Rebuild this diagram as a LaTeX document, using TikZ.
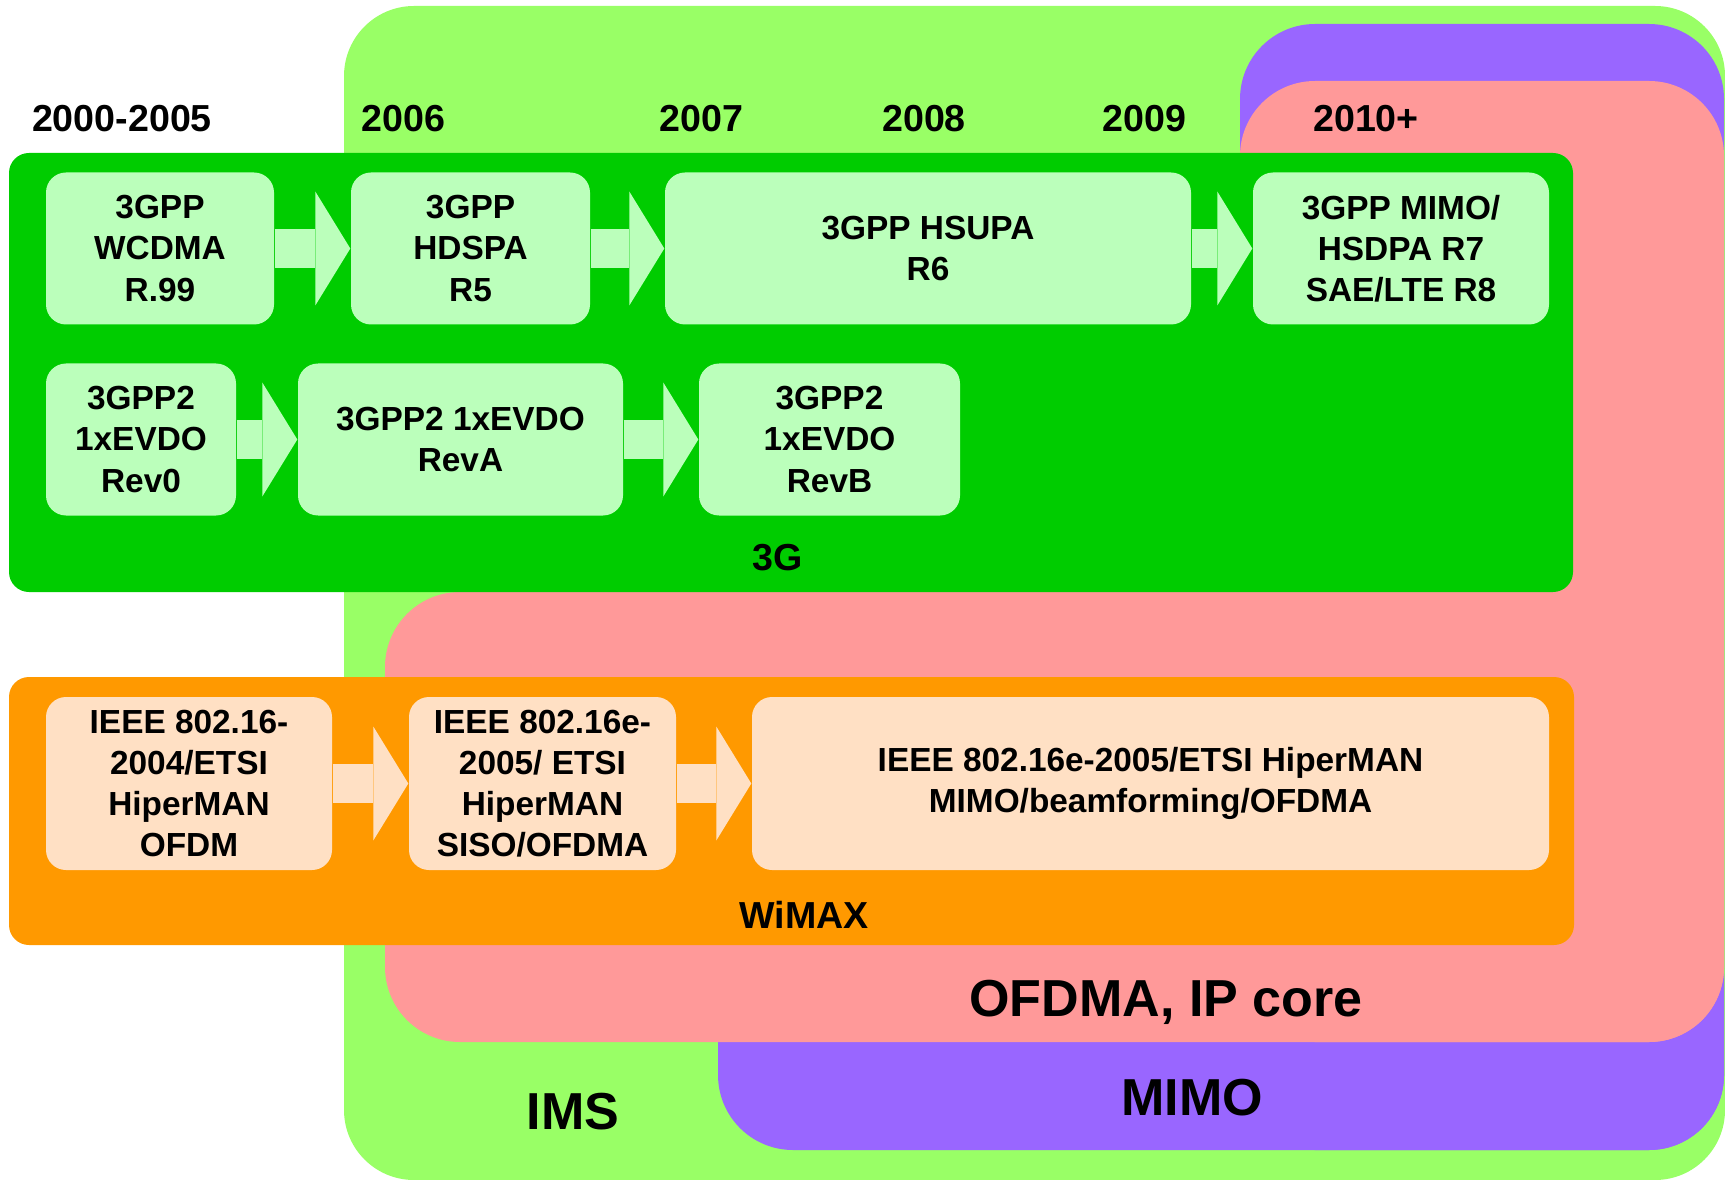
\documentclass[tikz,border=0pt]{standalone}
\usepackage{fontspec}
\setmainfont{Liberation Sans}
\usetikzlibrary{arrows.meta}

\definecolor{imsgreen}{HTML}{99FF66}
\definecolor{mimopurple}{HTML}{9966FF}
\definecolor{ofdmapink}{HTML}{FF9999}
\definecolor{threeg}{HTML}{00CC00}
\definecolor{threeglight}{HTML}{BBFFBB}
\definecolor{wimax}{HTML}{FF9900}
\definecolor{wimaxlight}{HTML}{FFE0C4}

\begin{document}
\begin{tikzpicture}[x=0.1mm, y=-0.1mm,
	year/.style={anchor=base, font=\fontsize{10.7}{12}\selectfont\bfseries},
	bigname/.style={anchor=base, font=\fontsize{14.8}{17}\selectfont\bfseries},
	release/.style={rounded corners=2mm, inner sep=0pt, align=center, font=\fontsize{9.5}{11.7}\selectfont\bfseries},
	gbox/.style={release, fill=threeglight, minimum height=15.2mm},
	obox/.style={release, fill=wimaxlight, minimum height=17.3mm},
	flow/.style={line width=3.9mm, -{Triangle[length=3.5mm, width=11.4mm, line width=0pt]}}]
	\useasboundingbox (0,0) rectangle (1725,1180);

	\fill[imsgreen, rounded corners=7mm] (344,6) rectangle (1725,1180);
	\fill[mimopurple, rounded corners=7.5mm] (1240,24) rectangle (1724,1150);
	\fill[mimopurple, rounded corners=7.5mm] (718,900) rectangle (1724,1150);
	\fill[ofdmapink, rounded corners=7.5mm] (1240,81) rectangle (1724,1042);
	\fill[ofdmapink, rounded corners=7.5mm] (385,592) rectangle (1724,1042);
	\fill[threeg, rounded corners=2mm] (9,153) rectangle (1573,592);
	\fill[wimax, rounded corners=2mm] (9,677) rectangle (1574,945);

	\node[year] (y0) at (122,132) {2000-2005};
	\node[year] (y6) at (403.5,132) {2006};
	\node[year] (y7) at (701.5,132) {2007};
	\node[year] (y8) at (924,132) {2008};
	\node[year] (y9) at (1144.5,132) {2009};
	\node[year] (y10) at (1366,132) {2010+};

	\node[gbox, minimum width=22.8mm] (wcdma) at (160,248.5) {3GPP\\WCDMA\\R.99};
	\node[gbox, minimum width=23.9mm] (hdspa) at (470.5,248.5) {3GPP\\HDSPA\\R5};
	\node[gbox, minimum width=52.6mm] (hsupa) at (928,248.5) {3GPP HSUPA\\R6};
	\node[gbox, minimum width=29.6mm] (lte) at (1401,248.5) {3GPP MIMO/\\HSDPA R7\\SAE/LTE R8};

	\node[gbox, minimum width=19mm] (rev0) at (141,439.5) {3GPP2\\1xEVDO\\Rev0};
	\node[gbox, minimum width=32.5mm] (reva) at (460.5,439.5) {3GPP2 1xEVDO\\RevA};
	\node[gbox, minimum width=26.1mm] (revb) at (829.5,439.5) {3GPP2\\1xEVDO\\RevB};

	\node[obox, minimum width=28.6mm] (ofdm) at (189,783.5) {IEEE 802.16-\\2004/ETSI\\HiperMAN\\OFDM};
	\node[obox, minimum width=26.7mm] (siso) at (542.5,783.5) {IEEE 802.16e-\\2005/ ETSI\\HiperMAN\\SISO/OFDMA};
	\node[obox, minimum width=79.7mm] (beam) at (1150.5,783.5) {IEEE 802.16e-2005/ETSI HiperMAN\\MIMO/beamforming/OFDMA};

	\draw[flow, threeglight] (wcdma) to (hdspa);
	\draw[flow, threeglight] (hdspa) to (hsupa);
	\draw[flow, threeglight] (hsupa) to (lte);
	\draw[flow, threeglight] (rev0) to (reva);
	\draw[flow, threeglight] (reva) to (revb);
	\draw[flow, wimaxlight] (ofdm) to (siso);
	\draw[flow, wimaxlight] (siso) to (beam);

	\node[year] (g3) at (778,570) {3G};
	\node[year] (wm) at (804,928) {WiMAX};
	\node[bigname] (ims) at (573,1129) {IMS};
	\node[bigname] (mimo) at (1192,1115) {MIMO};
	\node[bigname] (ofdma) at (1166,1016) {OFDMA, IP core};
\end{tikzpicture}
\end{document}
